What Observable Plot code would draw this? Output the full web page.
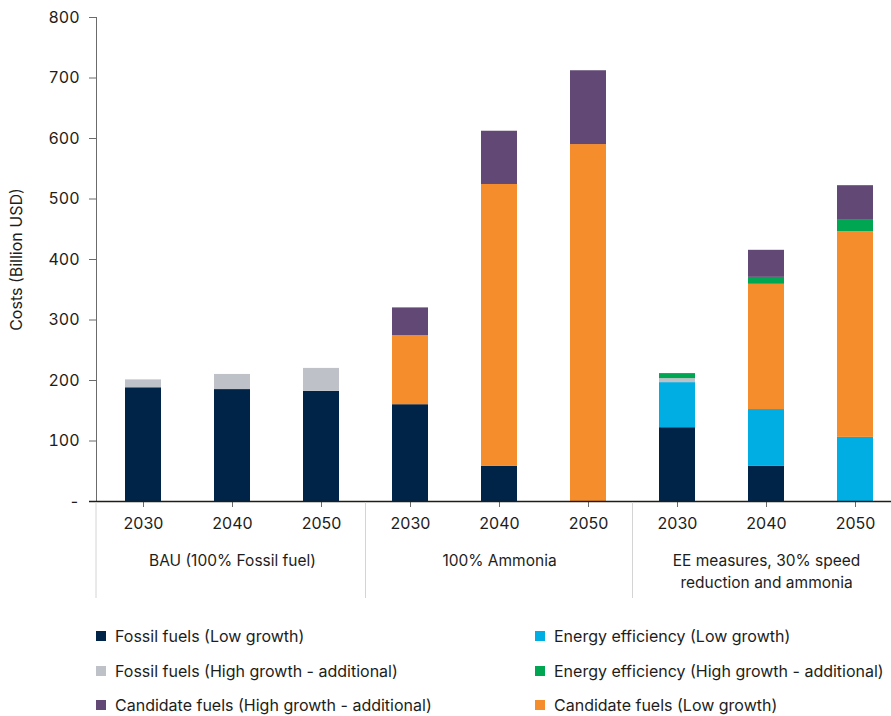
<!DOCTYPE html>
<html>
<head>
<meta charset="utf-8">
<script src="https://cdn.jsdelivr.net/npm/d3@7"></script>
<script src="https://cdn.jsdelivr.net/npm/@observablehq/plot@0.6"></script>
<style>
  html, body { margin: 0; padding: 0; background: #fff; }
  body { width: 891px; font-family: Inter, "Open Sans", sans-serif; color: #1d1d1b; }
  #chart svg { display: block; overflow: visible; }
  .legend { position: relative; height: 106px; font-size: 16px; }
  .legend .item { position: absolute; display: flex; align-items: center; white-space: nowrap; }
  .legend .sw { width: 10px; height: 10px; margin-right: 9px; flex: none; }
</style>
</head>
<body>
<div id="chart"></div>
<div class="legend" id="legend"></div>
<script>
// Scenarios and years shown on the x axis
const scenarios = ["BAU (100% Fossil fuel)", "100% Ammonia", "EE measures, 30% speed\nreduction and ammonia"];
const years = ["2030", "2040", "2050"];

// Cost components, billion USD, one value per bar (scenario × year)
const fossilLow       = [188, 185, 182, 160, 58, 0, 122, 58, 0];
const energyLow       = [0, 0, 0, 0, 0, 0, 74.5, 94, 106];
const fossilHighAdd   = [13, 25, 38, 0, 0, 0, 6.6, 0, 0];
const candidateLow    = [0, 0, 0, 114, 466, 590, 0, 207, 340];
const energyHighAdd   = [0, 0, 0, 0, 0, 0, 8.3, 11.5, 20];
const candidateHighAdd = [0, 0, 0, 46, 88, 122, 0, 44.7, 56];

// Stacking order (bottom to top) with series colours
const series = [
  {name: "Fossil fuels (Low growth)", values: fossilLow, color: "#002448"},
  {name: "Energy efficiency (Low growth)", values: energyLow, color: "#00aee3"},
  {name: "Fossil fuels (High growth - additional)", values: fossilHighAdd, color: "#bfc1c8"},
  {name: "Candidate fuels (Low growth)", values: candidateLow, color: "#f68d2c"},
  {name: "Energy efficiency (High growth - additional)", values: energyHighAdd, color: "#00a651"},
  {name: "Candidate fuels (High growth - additional)", values: candidateHighAdd, color: "#624874"}
];

// Legend layout: two columns, three rows
const legendOrder = [
  "Fossil fuels (Low growth)", "Energy efficiency (Low growth)",
  "Fossil fuels (High growth - additional)", "Energy efficiency (High growth - additional)",
  "Candidate fuels (High growth - additional)", "Candidate fuels (Low growth)"
];

const keys = [];
scenarios.forEach(s => years.forEach(y => keys.push(s + "|" + y)));

const rows = [];
series.forEach((s, si) => {
  s.values.forEach((v, i) => {
    rows.push({key: keys[i], series: s.name, order: si, value: v});
  });
});

const groupLabels = scenarios.map(s => ({key: s + "|" + years[1], label: s}));

const chart = Plot.plot({
  width: 891,
  height: 610,
  marginLeft: 96,
  marginRight: 0,
  marginTop: 17,
  marginBottom: 109,
  style: {fontFamily: "Inter, 'Open Sans', sans-serif", fontSize: "16px", color: "#1d1d1b", overflow: "visible"},
  x: {domain: keys, range: [96, 901], paddingInner: 0.596, paddingOuter: 0.314, axis: null},
  y: {domain: [0, 800], axis: null},
  color: {domain: series.map(s => s.name), range: series.map(s => s.color)},
  marks: [
    Plot.barY(rows, Plot.stackY({
      x: "key", y: "value", fill: "series", order: "order"
    })),
    Plot.axisY({
      ticks: d3.range(0, 801, 100),
      tickSize: 7,
      tickPadding: 10,
      stroke: "#6b6b6b",
      tickFormat: d => d === 0 ? "-" : d3.format("d")(d),
      label: "Costs (Billion USD)",
      labelAnchor: "center",
      labelArrow: "none",
      labelOffset: 86,
      fontSize: 16
    }),
    Plot.frame({anchor: "left", stroke: "#6b6b6b"}),
    Plot.axisX({
      tickSize: 6,
      tickPadding: 10,
      stroke: "#6b6b6b",
      tickFormat: d => d.split("|")[1],
      label: null,
      fontSize: 16
    }),
    Plot.ruleY([0], {stroke: "#1d1d1b", strokeWidth: 1.3, insetLeft: -7}),
    Plot.text(groupLabels, {
      x: "key", y: () => 0, text: "label",
      lineAnchor: "top", dy: 49, lineHeight: 1.42, fontSize: 15.5, fill: "#1d1d1b"
    })
  ]
});

document.getElementById("chart").append(chart);

// Vertical separators under the axis between scenario groups
const xs = chart.scale("x");
const ys = chart.scale("y");
const bw = xs.bandwidth;
const y0 = ys.apply(0);
const bounds = [96];
for (let g = 1; g < scenarios.length; g++) {
  const prev = xs.apply(keys[g * 3 - 1]) + bw;
  const next = xs.apply(keys[g * 3]);
  bounds.push((prev + next) / 2);
}
d3.select(chart).append("g")
  .attr("stroke", "#d4d4d4")
  .selectAll("line").data(bounds).join("line")
  .attr("x1", d => d).attr("x2", d => d)
  .attr("y1", y0 + 1).attr("y2", y0 + 97);

// Legend
const colorOf = Object.fromEntries(series.map(s => [s.name, s.color]));
const legend = d3.select("#legend");
legendOrder.forEach((name, i) => {
  const col = i % 2, row = Math.floor(i / 2);
  const item = legend.append("div").attr("class", "item")
    .style("left", (col === 0 ? 96 : 535) + "px")
    .style("top", (16 + row * 34.5) + "px");
  item.append("span").attr("class", "sw").style("background", colorOf[name]);
  item.append("span").text(name);
});
</script>
</body>
</html>
